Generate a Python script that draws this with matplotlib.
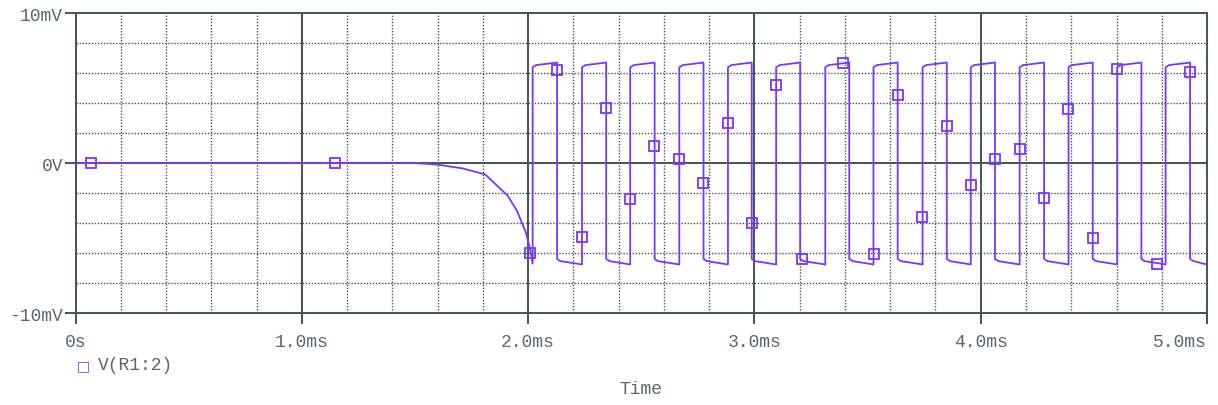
import matplotlib
matplotlib.use("Agg")
import matplotlib.pyplot as plt

# transient result for V(R1:2), times in ms, voltages in mV
settle_t = [0.0, 1.50, 1.60, 1.71, 1.81, 1.91, 1.95, 1.99, 2.008, 2.02]
settle_v = [0.0, 0.0, -0.10, -0.35, -0.75, -2.17, -3.16, -4.60, -5.70, -6.70]

rise_t = [2.020, 2.238, 2.451, 2.668, 2.883, 3.096, 3.313, 3.526, 3.743,
          3.956, 4.172, 4.388, 4.603, 4.817]
fall_t = [2.128, 2.345, 2.559, 2.775, 2.988, 3.202, 3.419, 3.633, 3.850,
          4.063, 4.280, 4.495, 4.710, 4.925]
t_end = 5.0

# level just after an edge, after the short kink, and just before next edge
high_levels = [6.38, 6.53, 6.70]
low_levels = [-6.38, -6.53, -6.75]
kink_ms = 0.015

# marker points along the trace
marker_t = [0.068, 1.147, 2.008, 2.126, 2.237, 2.343, 2.451, 2.558, 2.667,
            2.774, 2.882, 2.988, 3.095, 3.209, 3.393, 3.527, 3.633, 3.742,
            3.850, 3.956, 4.064, 4.172, 4.279, 4.387, 4.495, 4.602, 4.779,
            4.925]
marker_v = [0.0, 0.0, -5.98, 6.18, -4.90, 3.70, -2.41, 1.11, 0.27,
            -1.35, 2.64, -4.00, 5.20, -6.38, 6.64, -6.05, 4.54, -3.57,
            2.46, -1.44, 0.27, 0.93, -2.30, 3.59, -4.98, 6.25, -6.71,
            6.10]

xticks = [0, 1, 2, 3, 4, 5]
xtick_labels = ["0s", "1.0ms", "2.0ms", "3.0ms", "4.0ms", "5.0ms"]
yticks = [-10, 0, 10]
ytick_labels = ["-10mV", "0V", "10mV"]

# build the square-wave polyline from the edge times
t = list(settle_t)
v = list(settle_v)
edges = sorted([(r, high_levels) for r in rise_t] + [(f, low_levels) for f in fall_t])
for i, (te, lv) in enumerate(edges):
    t_next = edges[i + 1][0] if i + 1 < len(edges) else t_end
    t += [te, te + kink_ms, t_next]
    v += [lv[0], lv[1], lv[2]]

trace_col = "#7a35ff"
grid_col = "#3f5656"
text_col = "#566a6a"
font = "Liberation Mono"

fig = plt.figure(figsize=(12.18, 4.06), dpi=100)
ax = fig.add_axes([0.062, 0.226, 0.929, 0.7395])

# dotted minor grid
dots = (0, (1, 1.2))
for gx in [i * 0.2 for i in range(1, 25)]:
    if abs(gx - round(gx)) > 1e-6:
        ax.axvline(gx, color=grid_col, lw=1.0, ls=dots, zorder=1)
for gy in [-8, -6, -4, -2, 2, 4, 6, 8]:
    ax.axhline(gy, color=grid_col, lw=1.0, ls=dots, zorder=1)
# solid major grid
for gx in [1, 2, 3, 4]:
    ax.axvline(gx, color=grid_col, lw=1.4, zorder=1)
ax.axhline(0, color=grid_col, lw=1.4, zorder=1)

ax.plot(t, v, color=trace_col, lw=1.3, zorder=3, clip_on=True)
ax.plot(marker_t, marker_v, ls="none", marker="s", ms=6.5, mfc="none",
        mec=trace_col, mew=1.3, zorder=4)

ax.set_xlim(0, 5)
ax.set_ylim(-10, 10)
ax.set_xticks(xticks)
ax.set_xticklabels(xtick_labels)
ax.set_yticks(yticks)
ax.set_yticklabels(ytick_labels)
ax.tick_params(axis="both", colors=grid_col, labelcolor=text_col,
               labelsize=13, width=1.4)
ax.tick_params(axis="x", length=8, pad=6)
ax.tick_params(axis="y", length=8, pad=1)
for lbl in ax.get_xticklabels() + ax.get_yticklabels():
    lbl.set_fontfamily(font)
ax.get_xticklabels()[-1].set_horizontalalignment("right")
for s in ax.spines.values():
    s.set_color(grid_col)
    s.set_linewidth(1.4)

# legend entry and axis title
fig.text(83 / 1218, 1 - 366 / 406, "\u25a1", color=trace_col, fontsize=10,
         ha="center", va="center", family="DejaVu Sans")
fig.text(98 / 1218, 1 - 366 / 406, "V(R1:2)", color=text_col, fontsize=13,
         ha="left", va="center", family=font)
fig.text(641 / 1218, 1 - 390 / 406, "Time", color=text_col, fontsize=13,
         ha="center", va="center", family=font)

fig.savefig("out.png", dpi=100)
